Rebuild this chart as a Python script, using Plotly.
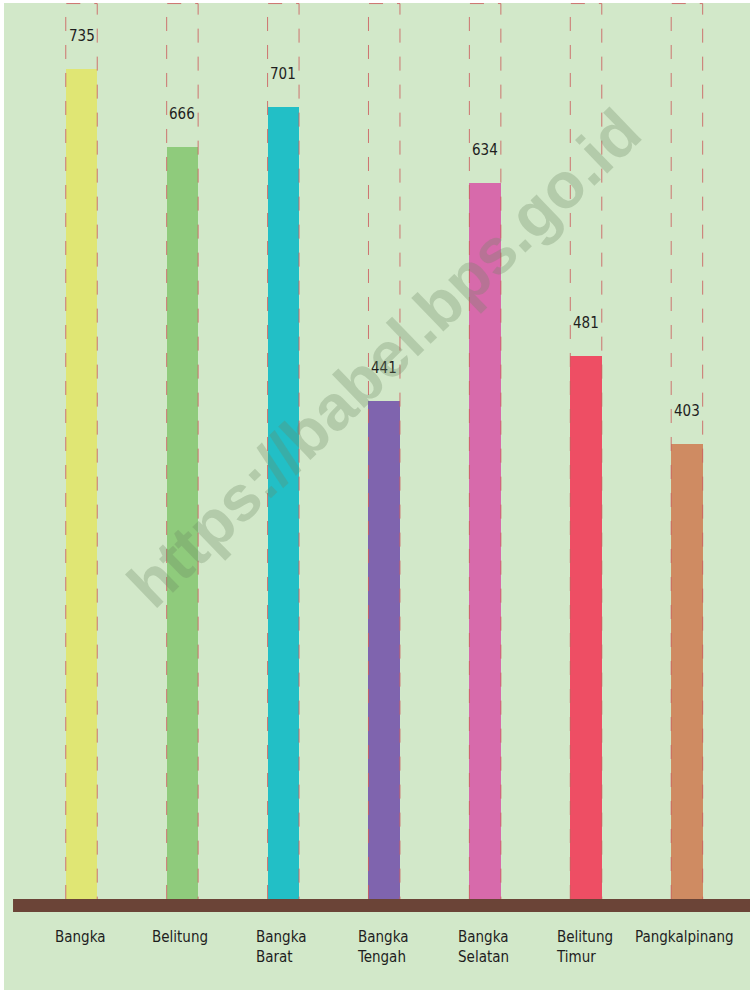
import plotly.graph_objects as go

categories = ["Bangka", "Belitung", "Bangka<br>Barat", "Bangka<br>Tengah",
              "Bangka<br>Selatan", "Belitung<br>Timur", "Pangkalpinang"]
values = [735, 666, 701, 441, 634, 481, 403]
value_labels = ["735", "666", "701", "441", "634", "481", "403"]
colors = ["#e0e674", "#8fcb7c", "#22bfc6", "#7f64ae", "#d76aab", "#ee4e64", "#cf8b62"]

BG = "#d2e8c9"
GROUND = "#6b4437"
DASH = "rgba(205,95,95,0.85)"
Y_TOP = 793
Y_BOTTOM = -80.6
BAR_W = 0.312
FONT = "Liberation Sans Narrow, DejaVu Sans Condensed, Noto Sans"

idx = list(range(len(categories)))

fig = go.Figure()
fig.add_trace(go.Bar(x=idx, y=values, width=BAR_W, marker=dict(color=colors, line=dict(width=0)),
                     hoverinfo="skip", showlegend=False))

# dashed guide boxes
for i in idx:
    fig.add_trace(go.Scatter(
        x=[i - BAR_W / 2, i - BAR_W / 2, i + BAR_W / 2, i + BAR_W / 2],
        y=[0, Y_TOP, Y_TOP, 0], mode="lines",
        line=dict(color=DASH, width=1, dash="14px,14px"),
        hoverinfo="skip", showlegend=False))

annotations = []
for i, v, t in zip(idx, values, value_labels):
    annotations.append(dict(x=i, y=v, text=t, showarrow=False, xref="x", yref="y",
                            yanchor="bottom", yshift=22,
                            font=dict(family=FONT, size=15, color="#1e1e1e")))
for i, c in zip(idx, categories):
    annotations.append(dict(x=i, y=0, text=c, showarrow=False, xref="x", yref="y",
                            yanchor="top", yshift=-27, xshift=-2, align="left",
                            font=dict(family=FONT, size=15, color="#1e1e1e")))
annotations.append(dict(x=0.51, y=0.64, xref="paper", yref="paper",
                        text="<b>https://babel.bps.go.id</b>",
                        showarrow=False, textangle=-44,
                        font=dict(family="Liberation Sans", size=64, color="rgba(110,135,100,0.3)")))

shapes = [dict(type="rect", xref="paper", yref="y", x0=0.0121, x1=1.0, y0=0, y1=-11.5,
               fillcolor=GROUND, line=dict(width=0), layer="above")]

fig.update_layout(
    width=752, height=993,
    margin=dict(l=4, r=2, t=3, b=3),
    paper_bgcolor="white", plot_bgcolor=BG,
    xaxis=dict(range=[-0.768, 6.625], visible=False, fixedrange=True),
    yaxis=dict(range=[Y_BOTTOM, Y_TOP + 0.5], visible=False, fixedrange=True),
    annotations=annotations, shapes=shapes, bargap=0,
)
fig.write_html("out.html", config={"displayModeBar": False},
               post_script="document.body.style.margin='0';document.body.style.overflow='hidden';")
